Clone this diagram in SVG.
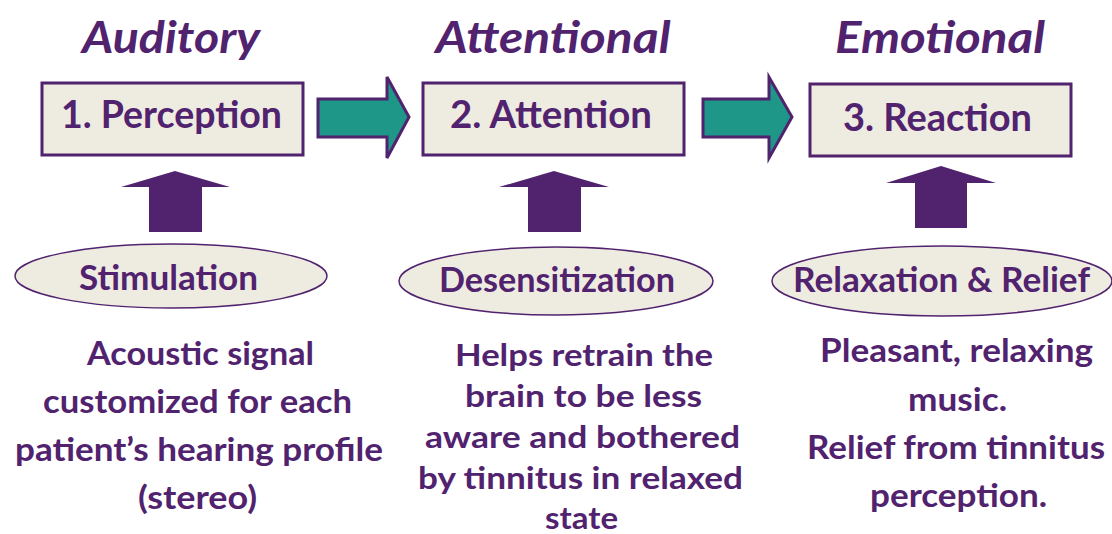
<svg xmlns="http://www.w3.org/2000/svg" width="1112" height="534" viewBox="0 0 1112 534">
<style>
text{font-family:Lato,"Open Sans","Liberation Sans",sans-serif;font-weight:bold;fill:#51236F;text-anchor:middle}
.hdr{font-size:43px;font-style:italic}
.lbl{font-size:38px}
.ell{font-size:34px}
.b1{font-size:33px}
.b2{font-size:31px}
.b3{font-size:33px}
.box{fill:#EEEBE1;stroke:#51236F;stroke-width:3}
.oval{fill:#EEEBE1;stroke:#51236F;stroke-width:1.5}
.teal{fill:#1E9688;stroke:#51236F;stroke-width:3;stroke-linejoin:miter}
.up{fill:#51236F}
</style>
<g id="headers">
<text class="hdr" x="171" y="53" textLength="178" lengthAdjust="spacingAndGlyphs">Auditory</text>
<text class="hdr" x="553" y="53" textLength="235" lengthAdjust="spacingAndGlyphs">Attentional</text>
<text class="hdr" x="940" y="53" textLength="210" lengthAdjust="spacingAndGlyphs">Emotional</text>
</g>
<g id="node-perception">
<rect class="box" x="42" y="83" width="261" height="72"/>
<text class="lbl" x="171.5" y="128" textLength="221" lengthAdjust="spacingAndGlyphs">1. Perception</text>
</g>
<g id="node-attention">
<rect class="box" x="423" y="83" width="261" height="72"/>
<text class="lbl" x="551" y="128" textLength="202" lengthAdjust="spacingAndGlyphs">2. Attention</text>
</g>
<g id="node-reaction">
<rect class="box" x="810" y="84" width="261" height="72"/>
<text class="lbl" x="937.5" y="131" textLength="189" lengthAdjust="spacingAndGlyphs">3. Reaction</text>
</g>
<g id="connectors">
<path class="teal" d="M318,99 L387,99 L387,77 L409,117 L387,158 L387,137 L318,137 Z"/>
<path class="teal" d="M703,99 L769,99 L769,77 L792,117 L769,158 L769,137 L703,137 Z"/>
<path class="up" d="M149,232 L149,187 L121,187 L175,171 L230,187 L202,187 L202,232 Z"/>
<path class="up" d="M528,232 L528,187 L499,187 L554,171 L609,187 L581,187 L581,232 Z"/>
<path class="up" d="M915,228 L915,183 L886,183 L941,166 L996,183 L967,183 L967,228 Z"/>
</g>
<g id="node-stimulation">
<ellipse class="oval" cx="171" cy="276" rx="156" ry="32"/>
<text class="ell" x="168.5" y="290" textLength="179" lengthAdjust="spacingAndGlyphs">Stimulation</text>
</g>
<g id="node-desensitization">
<ellipse class="oval" cx="556" cy="281" rx="157" ry="34"/>
<text class="ell" x="557" y="292" textLength="236" lengthAdjust="spacingAndGlyphs">Desensitization</text>
</g>
<g id="node-relaxation">
<ellipse class="oval" cx="942" cy="281" rx="170" ry="35"/>
<text class="ell" x="941.5" y="292" textLength="297" lengthAdjust="spacingAndGlyphs">Relaxation &amp; Relief</text>
</g>
<g id="desc-stimulation">
<text class="b1" x="200.5" y="365" textLength="227" lengthAdjust="spacingAndGlyphs">Acoustic signal</text>
<text class="b1" x="197.5" y="413" textLength="309" lengthAdjust="spacingAndGlyphs">customized for each</text>
<text class="b1" x="199" y="461" textLength="368" lengthAdjust="spacingAndGlyphs">patient’s hearing profile</text>
<text class="b1" x="197.5" y="509" textLength="119" lengthAdjust="spacingAndGlyphs">(stereo)</text>
</g>
<g id="desc-desensitization">
<text class="b2" x="584" y="366" textLength="258" lengthAdjust="spacingAndGlyphs">Helps retrain the</text>
<text class="b2" x="583.5" y="407" textLength="237" lengthAdjust="spacingAndGlyphs">brain to be less</text>
<text class="b2" x="582.5" y="448" textLength="315" lengthAdjust="spacingAndGlyphs">aware and bothered</text>
<text class="b2" x="580.5" y="489" textLength="325" lengthAdjust="spacingAndGlyphs">by tinnitus in relaxed</text>
<text class="b2" x="581.5" y="529" textLength="73" lengthAdjust="spacingAndGlyphs">state</text>
</g>
<g id="desc-relaxation">
<text class="b3" x="956.5" y="362" textLength="273" lengthAdjust="spacingAndGlyphs">Pleasant, relaxing</text>
<text class="b3" x="957.5" y="411" textLength="99" lengthAdjust="spacingAndGlyphs">music.</text>
<text class="b3" x="956" y="459" textLength="298" lengthAdjust="spacingAndGlyphs">Relief from tinnitus</text>
<text class="b3" x="958.5" y="507" textLength="177" lengthAdjust="spacingAndGlyphs">perception.</text>
</g>
</svg>
